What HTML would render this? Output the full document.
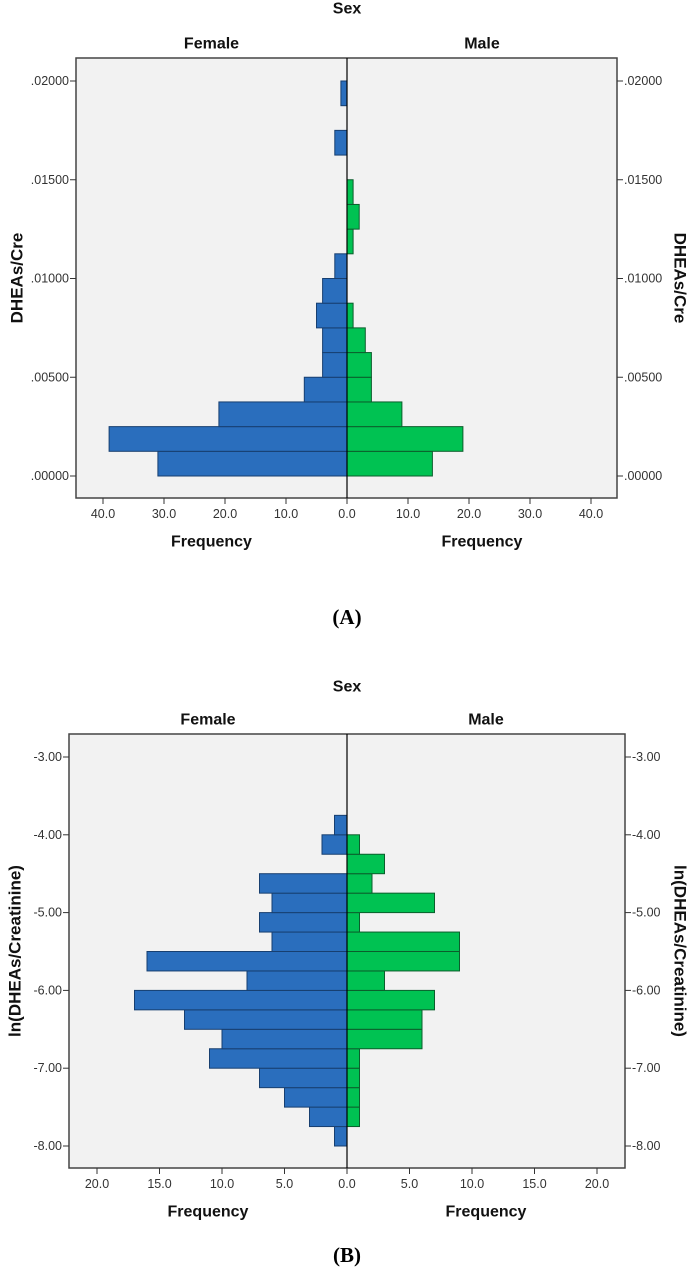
<!DOCTYPE html>
<html><head><meta charset="utf-8"><style>
html,body{margin:0;padding:0;background:#fff;}
svg{display:block;font-family:"Liberation Sans",Arial,sans-serif;}
.tick{font-size:12.5px;fill:#333;}
.lab{font-size:16px;font-weight:bold;fill:#111;}
.ylab{font-size:17px;font-weight:bold;fill:#111;}
.cap{font-family:"Liberation Serif",serif;font-size:21px;font-weight:bold;fill:#000;}
</style></head><body>
<svg id="chart" width="693" height="1270" viewBox="0 0 693 1270" xmlns="http://www.w3.org/2000/svg"></svg>
<script>
// Panel A data (bins from 0 upward, width 0.00125)
const binsA_start = 0;
const binsA_width = 0.00125;
const femaleA = [31,39,21,7,4,4,5,4,2,0,0,0,0,2,0,1];
const maleA   = [14,19,9,4,4,3,1,0,0,1,2,1,0,0,0,0];
const yTicksA = [0,0.005,0.01,0.015,0.02];
const yTickLabelsA = [".00000",".00500",".01000",".01500",".02000"];
const xTicksA = [0,10,20,30,40];
const xTickLabelsA = ["0.0","10.0","20.0","30.0","40.0"];
// Panel B data (bins from -8 upward, width 0.25)
const binsB_start = -8;
const binsB_width = 0.25;
const femaleB = [1,3,5,7,11,10,13,17,8,16,6,7,6,7,0,2,1];
const maleB   = [0,1,1,1,1,6,6,7,3,9,9,1,7,2,3,1,0];
const yTicksB = [-8,-7,-6,-5,-4,-3];
const yTickLabelsB = ["-8.00","-7.00","-6.00","-5.00","-4.00","-3.00"];
const xTicksB = [0,5,10,15,20];
const xTickLabelsB = ["0.0","5.0","10.0","15.0","20.0"];

const svg = document.getElementById('chart');
const NS = 'http://www.w3.org/2000/svg';
function mk(tag, attrs, parent){
  const e = document.createElementNS(NS, tag);
  for (const k in attrs) e.setAttribute(k, attrs[k]);
  (parent||svg).appendChild(e);
  return e;
}
function txt(x,y,s,cls,anchor,parent){
  const t = mk('text',{x:x,y:y,class:cls,'text-anchor':anchor||'middle','dominant-baseline':'central'},parent);
  t.textContent = s;
  return t;
}

function panel(cfg){
  const g = mk('g',{});
  
  
  const {L,R,T,B,cx,xPerUnit,y0val,y0px,yPerUnit} = cfg;
  const yS = v => y0px - (v - y0val) * yPerUnit;
  const xF = v => cx - v * xPerUnit;
  const xM = v => cx + v * xPerUnit;
  const bg = mk('rect',{x:L,y:T,width:R-L,height:B-T,fill:'#f2f2f2',stroke:'#444','stroke-width':1.5},g);
  
  
  cfg.female.forEach((v,i)=>{
    if(!v) return;
    const y1 = yS(cfg.bs + (i+1)*cfg.bw), y2 = yS(cfg.bs + i*cfg.bw);
    const r = mk('rect',{x:xF(v),y:y1,width:cx-xF(v),height:y2-y1,fill:'#2a6ebd',stroke:'#173f70','stroke-width':1},g);
    
    
  });
  cfg.male.forEach((v,i)=>{
    if(!v) return;
    const y1 = yS(cfg.bs + (i+1)*cfg.bw), y2 = yS(cfg.bs + i*cfg.bw);
    const r = mk('rect',{x:cx,y:y1,width:xM(v)-cx,height:y2-y1,fill:'#00c252',stroke:'#0b5e2c','stroke-width':1},g);
    
    
  });
  mk('line',{x1:cx,y1:T,x2:cx,y2:B,stroke:'#000','stroke-width':1.2},g);
  cfg.yt.forEach((v,i)=>{
    const y = yS(v);
    mk('line',{x1:L-6,y1:y,x2:L,y2:y,stroke:'#333'},g);
    mk('line',{x1:R,y1:y,x2:R+6,y2:y,stroke:'#333'},g);
    const a = txt(L-7,y,cfg.ytl[i],'tick','end',g);
    
    
    const b = txt(R+7,y,cfg.ytl[i],'tick','start',g);
    
    
  });
  cfg.xt.forEach((v,i)=>{
    [xF(v), xM(v)].forEach((x,j)=>{
      if(j===1 && v===0) return;
      mk('line',{x1:x,y1:B,x2:x,y2:B+6,stroke:'#333'},g);
      const t = txt(x,cfg.tickY,cfg.xtl[i],'tick','middle',g);
      
      
    });
  });
  let t;
  t = txt(cx,cfg.sexY,'Sex','lab','middle',g);
   
  t = txt((L+cx)/2,cfg.grpY,'Female','lab','middle',g);
   
  t = txt((R+cx)/2,cfg.grpY,'Male','lab','middle',g);
   
  t = txt((L+cx)/2,cfg.freqY,'Frequency','lab','middle',g);
   
  t = txt((R+cx)/2,cfg.freqY,'Frequency','lab','middle',g);
   
  const my = (T+B)/2;
  t = txt(cfg.ylabL,my,cfg.ylab,'ylab','middle',g);
  t.setAttribute('transform','rotate(-90 '+cfg.ylabL+' '+my+')');
   
  t = txt(cfg.ylabR,my,cfg.ylab,'ylab','middle',g);
  t.setAttribute('transform','rotate(90 '+cfg.ylabR+' '+my+')');
   
  t = txt(cx,cfg.capY,cfg.cap,'cap','middle',g);
   
}

panel({name:'panel-a',L:76,R:617,T:58,B:498,cx:347,xPerUnit:(347-103)/40,y0val:0,y0px:476,yPerUnit:(476-81)/0.02,
  bs:binsA_start,bw:binsA_width,female:femaleA,male:maleA,yt:yTicksA,ytl:yTickLabelsA,xt:xTicksA,xtl:xTickLabelsA,
  tickY:514,sexY:9,grpY:44,freqY:542,ylab:'DHEAs/Cre',ylabL:17,ylabR:680,capY:617,cap:'(A)'});
panel({name:'panel-b',L:69,R:625,T:734,B:1168,cx:347,xPerUnit:(347-97)/20,y0val:-8,y0px:1146,yPerUnit:(1146-757)/5,
  bs:binsB_start,bw:binsB_width,female:femaleB,male:maleB,yt:yTicksB,ytl:yTickLabelsB,xt:xTicksB,xtl:xTickLabelsB,
  tickY:1184,sexY:687,grpY:720,freqY:1212,ylab:'ln(DHEAs/Creatinine)',ylabL:15,ylabR:680,capY:1255,cap:'(B)'});
</script>
</body></html>
